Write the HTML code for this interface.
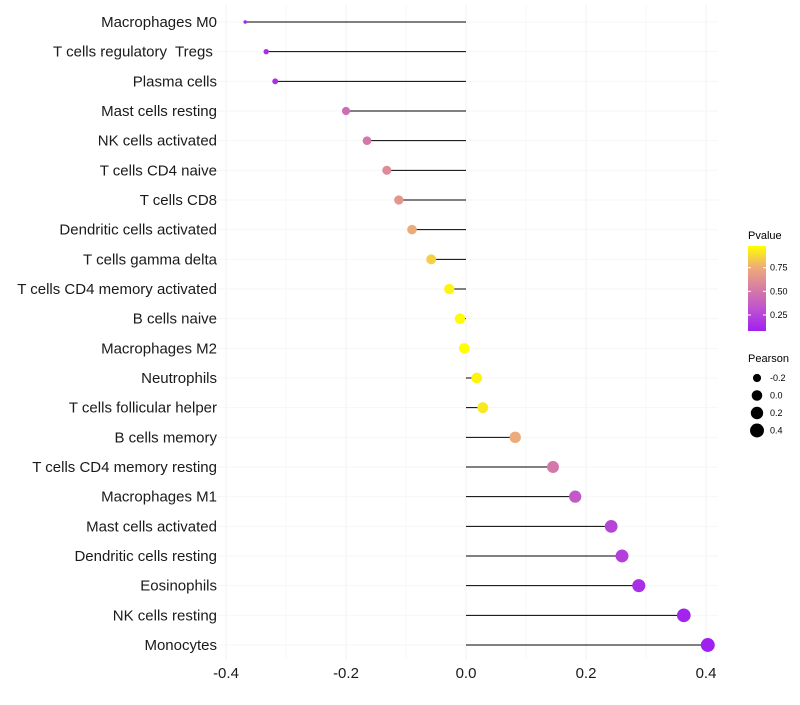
<!DOCTYPE html>
<html><head><meta charset="utf-8"><style>
body{margin:0;background:#fff;font-family:"Liberation Sans",sans-serif}
svg text{font-family:"Liberation Sans",sans-serif;white-space:pre}
</style></head><body>
<svg id="c" width="800" height="700"></svg>
<script>
const categories=["Macrophages M0","T cells regulatory  Tregs ","Plasma cells","Mast cells resting","NK cells activated","T cells CD4 naive","T cells CD8","Dendritic cells activated","T cells gamma delta","T cells CD4 memory activated","B cells naive","Macrophages M2","Neutrophils","T cells follicular helper","B cells memory","T cells CD4 memory resting","Macrophages M1","Mast cells activated","Dendritic cells resting","Eosinophils","NK cells resting","Monocytes"];
const pearson=[-0.368,-0.333,-0.318,-0.2,-0.165,-0.132,-0.112,-0.09,-0.058,-0.028,-0.01,-0.003,0.018,0.028,0.082,0.145,0.182,0.242,0.26,0.288,0.363,0.403];
const pvalue=[0.1,0.15,0.15,0.45,0.5,0.6,0.65,0.75,0.85,0.95,0.97,0.99,0.95,0.92,0.75,0.5,0.35,0.25,0.22,0.15,0.1,0.05];
const xTicks=[-0.4,-0.2,0.0,0.2,0.4];
const colorTicks=[0.25,0.5,0.75];
const sizeTicks=[-0.2,0.0,0.2,0.4];
const NS="http://www.w3.org/2000/svg",svg=document.getElementById('c');
function mk(t,a,p){const e=document.createElementNS(NS,t);for(const k in a)e.setAttribute(k,a[k]);(p||svg).appendChild(e);return e;}
const x=v=>466+v*600;
const y=i=>22+i*(623/21);
const pMin=0.08,pMax=0.98;
const stops=[[0,[160,32,240]],[0.25,[190,80,210]],[0.5,[215,125,165]],[0.75,[238,172,120]],[1,[255,255,0]]];
function col(p){let t=Math.max(0,Math.min(1,(p-pMin)/(pMax-pMin)));let k=0;while(k<stops.length-2&&t>stops[k+1][0])k++;const [t0,a]=stops[k],[t1,b]=stops[k+1];const f=(t-t0)/(t1-t0);return `rgb(${a.map((c,j)=>Math.round(c+(b[j]-c)*f)).join(',')})`;}
const vMin=-0.37,vMax=0.41;
const r=v=>1.5+5.5*Math.sqrt(Math.max(0,(v-vMin)/(vMax-vMin)));
for(let n=-4;n<=4;n++){const v=n/10;const l=mk('line',{x1:x(v),x2:x(v),y1:5,y2:660,stroke:n%2==0?'#f0f0f0':'#f6f6f6','stroke-width':n%2==0?1:0.6});}
categories.forEach((c,i)=>{const g=mk('line',{x1:214,x2:718,y1:y(i),y2:y(i),stroke:'#f6f6f6','stroke-width':1});});
categories.forEach((c,i)=>{
 const t=mk('text',{x:217,y:y(i)+5,'text-anchor':'end','font-size':15,fill:'#1a1a1a'});t.textContent=c;
 
 const l=mk('line',{x1:x(0),x2:x(pearson[i]),y1:y(i),y2:y(i),stroke:'#000','stroke-width':1});
 
 const d=mk('circle',{cx:x(pearson[i]),cy:y(i),r:r(pearson[i]),fill:col(pvalue[i])});
 
});
xTicks.forEach(v=>{const t=mk('text',{x:x(v),y:678,'text-anchor':'middle','font-size':15,fill:'#1a1a1a'});t.textContent=v.toFixed(1);});
const ct=mk('text',{x:748,y:239,'font-size':11});ct.textContent='Pvalue';
const defs=mk('defs',{});const lg=mk('linearGradient',{id:'g',x1:0,y1:1,x2:0,y2:0},defs);
for(let s=0;s<=20;s++){mk('stop',{offset:s/20,'stop-color':col(pMin+(pMax-pMin)*s/20)},lg);}
const cb=mk('rect',{x:748,y:246,width:18,height:85,fill:'url(#g)'});
const cy=p=>331-(p-pMin)/(pMax-pMin)*85;
colorTicks.forEach(p=>{mk('line',{x1:748,x2:751,y1:cy(p),y2:cy(p),stroke:'#fff'});mk('line',{x1:763,x2:766,y1:cy(p),y2:cy(p),stroke:'#fff'});const t=mk('text',{x:770,y:cy(p)+3,'font-size':9});t.textContent=p.toFixed(2);});
const st=mk('text',{x:748,y:362,'font-size':11});st.textContent='Pearson';
sizeTicks.forEach((v,i)=>{const yy=378+i*17.5;const c=mk('circle',{cx:757,cy:yy,r:r(v),fill:'#000'});const t=mk('text',{x:770,y:yy+3,'font-size':9});t.textContent=v.toFixed(1);});
</script></body></html>
